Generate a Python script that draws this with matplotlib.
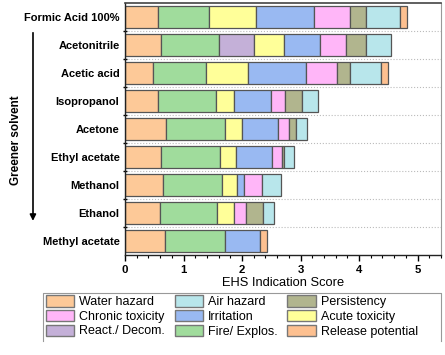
import numpy as np
import matplotlib.pyplot as plt
from matplotlib.patches import Patch
from matplotlib.ticker import MultipleLocator, FixedLocator

plt.rcParams['font.family'] = ['Liberation Sans', 'DejaVu Sans']

# solvents, top to bottom
solvents = ['Formic Acid 100%', 'Acetonitrile', 'Acetic acid', 'Isopropanol', 'Acetone',
            'Ethyl acetate', 'Methanol', 'Ethanol', 'Methyl acetate']

# EHS contributions per category (stacking order left to right)
water_hazard = [0.56, 0.62, 0.47, 0.56, 0.70, 0.62, 0.65, 0.59, 0.69]
fire_explos = [0.88, 0.99, 0.92, 1.00, 1.00, 1.00, 1.00, 0.99, 1.01]
react_decom = [0, 0.60, 0, 0, 0, 0, 0, 0, 0]
acute_tox = [0.80, 0.51, 0.71, 0.31, 0.30, 0.27, 0.27, 0.29, 0]
irritation = [0.99, 0.61, 0.99, 0.63, 0.61, 0.62, 0.11, 0, 0.61]
chronic_tox = [0.61, 0.45, 0.53, 0.24, 0.19, 0.17, 0.31, 0.20, 0]
persistency = [0.27, 0.34, 0.23, 0.29, 0.12, 0.03, 0, 0.28, 0]
air_hazard = [0.59, 0.43, 0.52, 0.26, 0.19, 0.17, 0.32, 0.20, 0]
release_pot = [0.12, 0, 0.13, 0, 0, 0, 0, 0, 0.12]

stack = [
    ('Water hazard', water_hazard, '#FDC998'),
    ('Fire/ Explos.', fire_explos, '#A0DC9C'),
    ('React./ Decom.', react_decom, '#C4B0D8'),
    ('Acute toxicity', acute_tox, '#FFFF99'),
    ('Irritation', irritation, '#99B9F2'),
    ('Chronic toxicity', chronic_tox, '#FFB6F8'),
    ('Persistency', persistency, '#B1B58E'),
    ('Air hazard', air_hazard, '#B8E6EB'),
    ('Release potential', release_pot, '#FDC090'),
]
colors = {name: c for name, _, c in stack}

fig = plt.figure(figsize=(4.45, 3.55), dpi=100)
ax = fig.add_axes([0.281, 0.282, 0.710, 0.710])

y = np.arange(len(solvents))
left = np.zeros(len(solvents))
for name, vals, col in stack:
    vals = np.array(vals, dtype=float)
    m = vals > 0
    ax.barh(y[m], vals[m], left=left[m], height=0.78, color=col,
            edgecolor='#555555', linewidth=0.9)
    left += vals

ax.set_xlim(0, 5.4)
ax.set_ylim(len(solvents) - 0.5, -0.5)
ax.set_yticks(y)
ax.set_yticklabels(solvents, fontsize=8.0, fontweight='bold')
ax.tick_params(axis='y', which='major', length=0, pad=4)
ax.yaxis.set_minor_locator(FixedLocator(np.arange(0.5, len(solvents) - 1, 1.0)))
ax.tick_params(axis='y', which='minor', length=3, width=1, direction='inout')
ax.grid(axis='y', which='minor', linestyle=':', color='#bbbbbb', linewidth=0.8)

ax.xaxis.set_major_locator(MultipleLocator(1))
ax.xaxis.set_minor_locator(MultipleLocator(0.2))
ax.tick_params(axis='x', which='major', length=4, width=1, labelsize=8.2, pad=3)
ax.tick_params(axis='x', which='minor', length=2, width=0.8)
for lab in ax.get_xticklabels():
    lab.set_fontweight('bold')
ax.set_xlabel('EHS Indication Score', fontsize=9.3, labelpad=2)

for s in ['left', 'bottom']:
    ax.spines[s].set_color('#222222')
    ax.spines[s].set_linewidth(1.0)
ax.spines['top'].set_color('#444444')
ax.spines['top'].set_linewidth(1.2)
ax.spines['right'].set_color('#999999')
ax.spines['right'].set_linewidth(0.8)

# "Greener solvent" arrow
fig.add_artist(plt.Line2D([0.074, 0.074], [0.907, 0.39], color='black', lw=1.2))
ax.annotate('', xy=(0.074, 0.37), xytext=(0.074, 0.40), xycoords='figure fraction',
            arrowprops=dict(arrowstyle='-|>', color='black', lw=1.2, mutation_scale=9))
fig.text(0.036, 0.606, 'Greener solvent', rotation=90, ha='center', va='center',
         fontsize=8.5, fontweight='bold')

legend_order = ['Water hazard', 'Chronic toxicity', 'React./ Decom.',
                'Air hazard', 'Irritation', 'Fire/ Explos.',
                'Persistency', 'Acute toxicity', 'Release potential']
handles = [Patch(facecolor=colors[n], edgecolor='#777777', label=n) for n in legend_order]
leg = fig.legend(handles=handles, ncol=3, loc='upper left',
                 bbox_to_anchor=(0.097, 0.175),
                 fontsize=9.0, frameon=False,
                 handlelength=2.3, handleheight=1.0, handletextpad=0.4,
                 labelspacing=0.14, borderpad=0.2, borderaxespad=0, columnspacing=0.75)

# legend box (open at the bottom as in the source image)
fig.add_artist(plt.Line2D([0.097, 0.097, 0.991, 0.991], [0.039, 0.175, 0.175, 0.039],
                          color='#999999', lw=0.8))

fig.savefig('out.png', dpi=100)
